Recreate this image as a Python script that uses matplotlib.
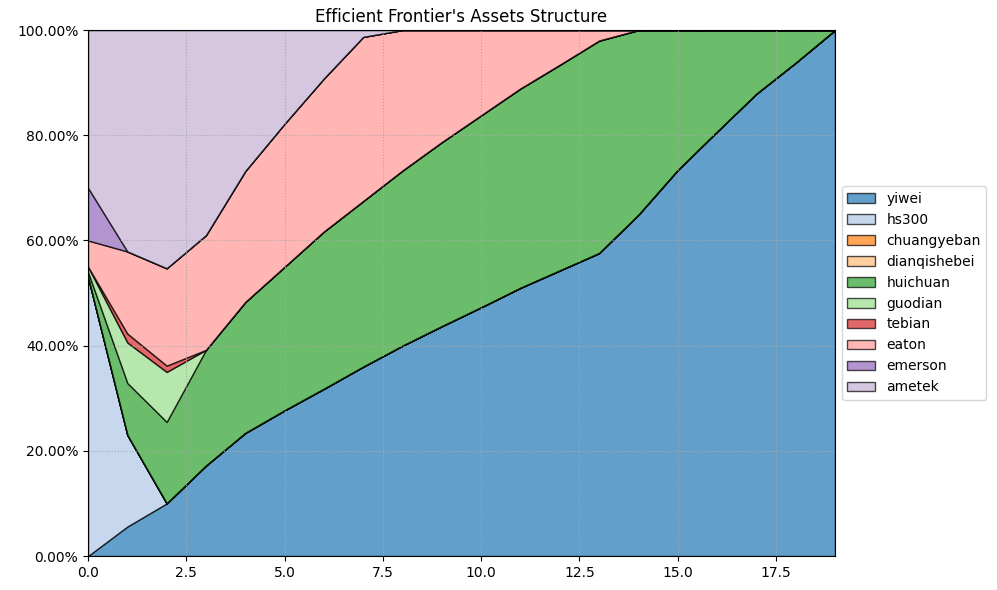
import numpy as np
import matplotlib
matplotlib.use("Agg")
import matplotlib.pyplot as plt
from matplotlib.ticker import FuncFormatter

assets = ["yiwei", "hs300", "chuangyeban", "dianqishebei", "huichuan",
          "guodian", "tebian", "eaton", "emerson", "ametek"]

# weights of each asset along the frontier (20 portfolios)
yiwei = [0.000, 0.056, 0.100, 0.172, 0.234, 0.277, 0.318, 0.360, 0.400, 0.437,
         0.473, 0.510, 0.543, 0.576, 0.649, 0.734, 0.807, 0.879, 0.938, 1.000]
hs300 = [0.530, 0.174, 0.000, 0.000, 0.000, 0.000, 0.000, 0.000, 0.000, 0.000,
         0.000, 0.000, 0.000, 0.000, 0.000, 0.000, 0.000, 0.000, 0.000, 0.000]
chuangyeban = [0.0] * 20
dianqishebei = [0.0] * 20
huichuan = [0.010, 0.099, 0.155, 0.220, 0.249, 0.273, 0.299, 0.315, 0.333, 0.350,
            0.365, 0.379, 0.391, 0.404, 0.351, 0.266, 0.193, 0.121, 0.062, 0.000]
guodian = [0.010, 0.077, 0.095, 0.000, 0.000, 0.000, 0.000, 0.000, 0.000, 0.000,
           0.000, 0.000, 0.000, 0.000, 0.000, 0.000, 0.000, 0.000, 0.000, 0.000]
tebian = [0.000, 0.017, 0.012, 0.000, 0.000, 0.000, 0.000, 0.000, 0.000, 0.000,
          0.000, 0.000, 0.000, 0.000, 0.000, 0.000, 0.000, 0.000, 0.000, 0.000]
eaton = [0.050, 0.156, 0.185, 0.218, 0.249, 0.272, 0.291, 0.312, 0.267, 0.213,
         0.162, 0.111, 0.066, 0.020, 0.000, 0.000, 0.000, 0.000, 0.000, 0.000]
emerson = [0.100, 0.000, 0.000, 0.000, 0.000, 0.000, 0.000, 0.000, 0.000, 0.000,
           0.000, 0.000, 0.000, 0.000, 0.000, 0.000, 0.000, 0.000, 0.000, 0.000]
ametek = [0.300, 0.421, 0.453, 0.390, 0.268, 0.178, 0.092, 0.013, 0.000, 0.000,
          0.000, 0.000, 0.000, 0.000, 0.000, 0.000, 0.000, 0.000, 0.000, 0.000]

weights = [yiwei, hs300, chuangyeban, dianqishebei, huichuan,
           guodian, tebian, eaton, emerson, ametek]
x = np.arange(len(yiwei))

colors = plt.cm.tab20.colors[:len(assets)]

fig, ax = plt.subplots(figsize=(9.97, 5.9), dpi=100)
ax.stackplot(x, *weights, labels=assets, colors=colors, alpha=0.7,
             edgecolor="black", linewidth=1)
ax.set_xlim(0, 19)
ax.set_ylim(0, 1)
ax.yaxis.set_major_formatter(FuncFormatter(lambda v, _: "{:.2%}".format(v)))
ax.grid(True, linestyle=":", color="darkgray")
ax.set_title("Efficient Frontier's Assets Structure")
ax.legend(loc="center left", bbox_to_anchor=(1, 0.5))
fig.subplots_adjust(left=0.0883, right=0.8375, top=0.949, bottom=0.0576)
plt.savefig("out.png")
